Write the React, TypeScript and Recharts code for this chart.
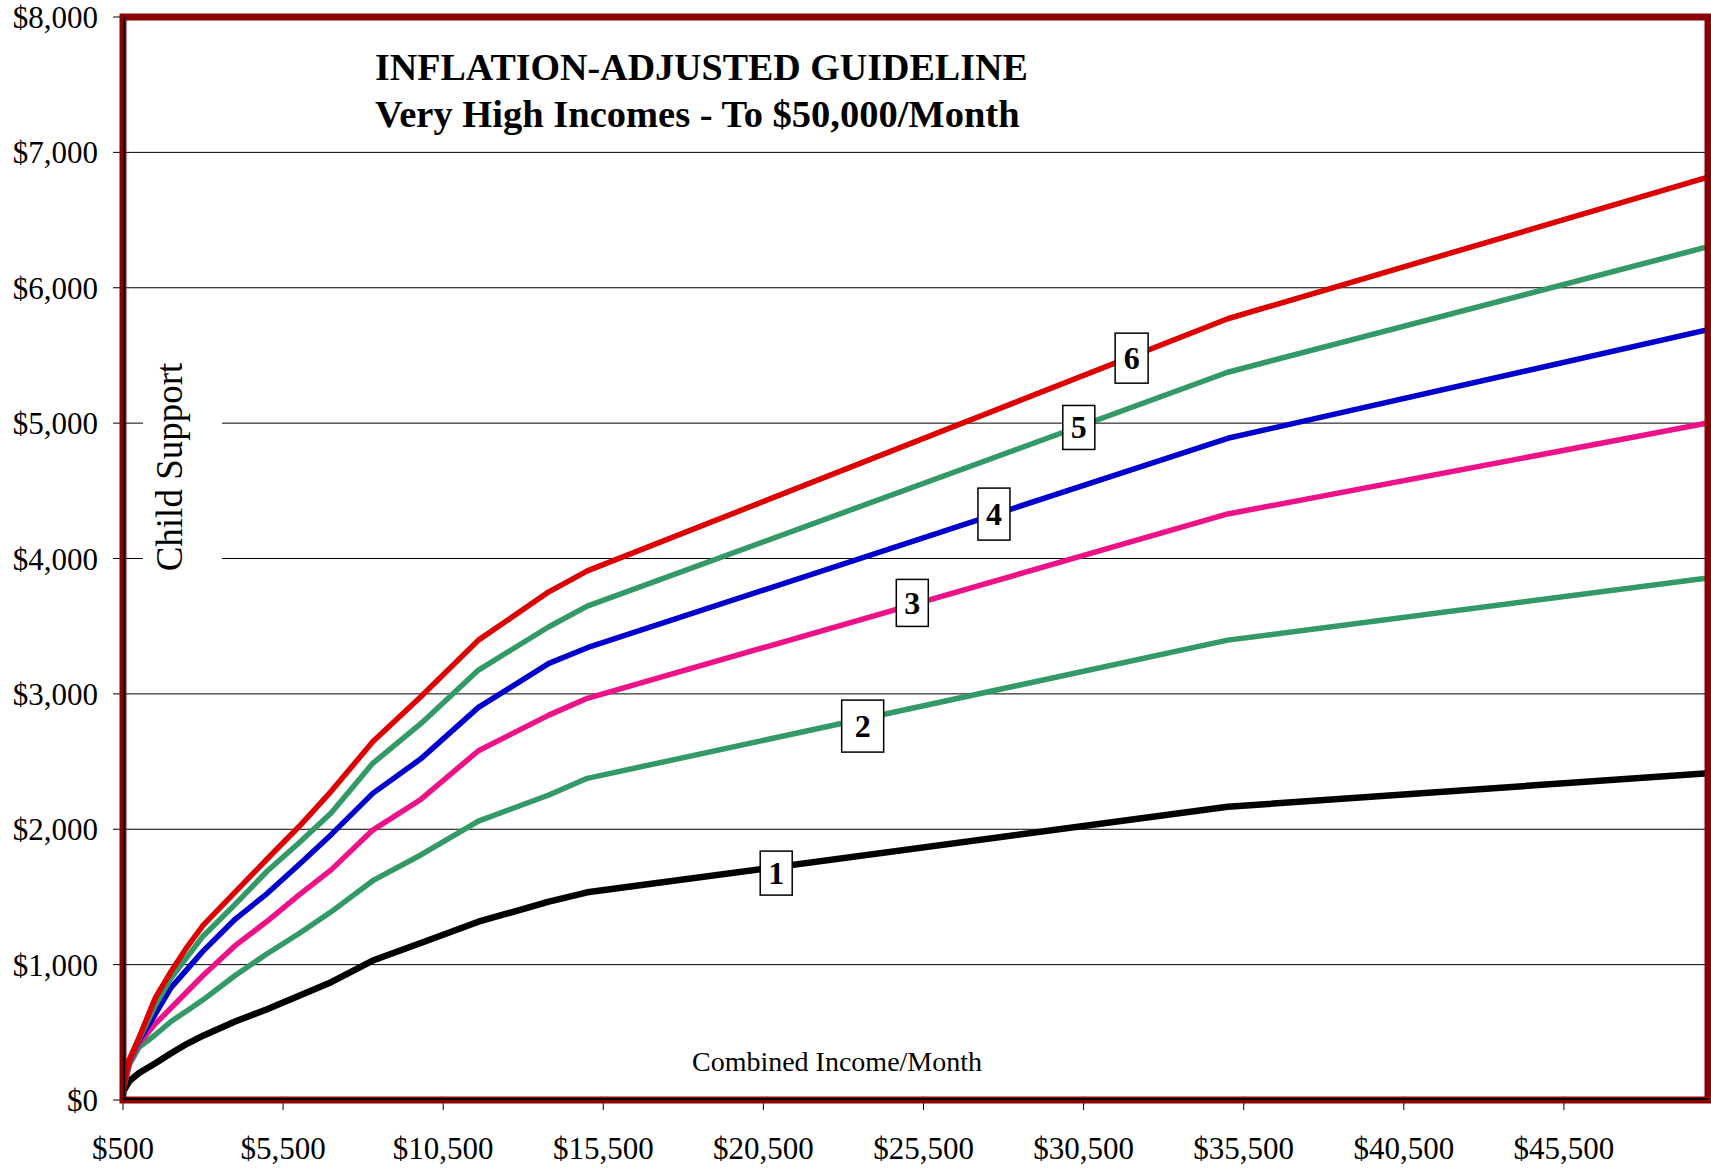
import React from "react";
import { LineChart, Line, XAxis, YAxis, CartesianGrid, ReferenceDot } from "recharts";

// Combined income per month (x) and child support per month for 1..6 children
const incomes = [500, 700, 1000, 1500, 2000, 2500, 3000, 4000, 5000, 6000, 7000, 8300, 9800, 11600, 13800, 15000, 35000, 50000];
const oneChild = [60, 140, 200, 270, 345, 415, 475, 580, 670, 770, 870, 1030, 1160, 1317, 1465, 1534, 2166, 2414];
const twoChildren = [70, 260, 390, 480, 580, 660, 740, 920, 1080, 1230, 1390, 1620, 1810, 2060, 2253, 2376, 3397, 3856];
const threeChildren = [70, 280, 420, 560, 680, 800, 920, 1140, 1320, 1515, 1700, 1994, 2220, 2580, 2843, 2967, 4329, 5001];
const fourChildren = [70, 290, 440, 630, 830, 965, 1100, 1335, 1525, 1740, 1960, 2265, 2520, 2900, 3225, 3341, 4888, 5690];
const fiveChildren = [70, 295, 450, 695, 900, 1055, 1210, 1445, 1690, 1900, 2120, 2487, 2780, 3176, 3496, 3648, 5376, 6303];
const sixChildren = [70, 300, 460, 750, 950, 1130, 1290, 1535, 1780, 2020, 2280, 2646, 2979, 3397, 3754, 3909, 5771, 6817];

const xTicks = [500, 5500, 10500, 15500, 20500, 25500, 30500, 35500, 40500, 45500];
const yTicks = [0, 1000, 2000, 3000, 4000, 5000, 6000, 7000, 8000];

// Series tag labels (number of children) placed on the lines
const tagTexts = ["1", "2", "3", "4", "5", "6"];
const tagIncomes = [20900, 23600, 25150, 27700, 30350, 32000];
const tagValues = [1676, 2762, 3672, 4328, 4968, 5480];

const title1 = "INFLATION-ADJUSTED GUIDELINE";
const title2 = "Very High Incomes - To $50,000/Month";
const yTitle = "Child Support";
const xTitle = "Combined Income/Month";

const seriesKeys = ["s1", "s2", "s3", "s4", "s5", "s6"];
const seriesColors = ["#000000", "#339966", "#EE1289", "#0000CC", "#339966", "#DD0000"];
const seriesWidths = [6.5, 5.5, 5.5, 5.5, 5.5, 5.5];
const tagBoxW = [32, 42, 32, 32, 32, 33];
const tagBoxH = [44, 52, 47, 52, 44, 50];

const data = incomes.map((x, i) => ({
  x,
  s1: oneChild[i],
  s2: twoChildren[i],
  s3: threeChildren[i],
  s4: fourChildren[i],
  s5: fiveChildren[i],
  s6: sixChildren[i],
}));

const FONT = '"Liberation Serif", "Times New Roman", serif';
const W = 1711;
const H = 1175;
const PL = 123;
const PT = 17;
const PR = 3;
const PB = 75;

const money = (v: number) => "$" + Number(v).toLocaleString("en-US");

const makeTag = (i: number) => (props: any) => {
  const { cx, cy } = props;
  const w = tagBoxW[i];
  const h = tagBoxH[i];
  return (
    <g>
      <rect x={cx - w / 2} y={cy - h / 2} width={w} height={h} fill="#fff" stroke="#000" strokeWidth={1.5} />
      <text x={cx} y={cy + 11} textAnchor="middle" fontFamily={FONT} fontWeight="bold" fontSize={32} fill="#000">
        {tagTexts[i]}
      </text>
    </g>
  );
};

export default function App() {
  const plotW = W - PL - PR;
  const plotH = H - PT - PB;
  return (
    <div style={{ position: "absolute", left: 0, top: 0, width: W, height: H, background: "#fff" }}>
      <LineChart width={W} height={H} data={data} margin={{ top: PT, right: PR, left: 0, bottom: 0 }}>
        <CartesianGrid vertical={false} stroke="#000" strokeWidth={1} />
        <XAxis
          dataKey="x"
          type="number"
          domain={[500, 50000]}
          allowDataOverflow
          ticks={xTicks}
          tickFormatter={money}
          height={PB}
          tickSize={10}
          tickMargin={27}
          stroke="#000"
          tick={{ fontFamily: FONT, fontSize: 31, fill: "#000" }}
          interval={0}
        />
        <YAxis
          type="number"
          domain={[0, 8000]}
          ticks={yTicks}
          tickFormatter={money}
          width={PL}
          tickSize={10}
          tickMargin={15}
          stroke="#000"
          tick={{ fontFamily: FONT, fontSize: 31, fill: "#000" }}
          interval={0}
        />
        {seriesKeys.map((k, i) => (
          <Line
            key={k}
            dataKey={k}
            type="linear"
            stroke={seriesColors[i]}
            strokeWidth={seriesWidths[i]}
            dot={false}
            activeDot={false}
            isAnimationActive={false}
            strokeLinejoin="round"
          />
        ))}
        {tagTexts.map((t, i) => (
          <ReferenceDot key={t} x={tagIncomes[i]} y={tagValues[i]} r={0} ifOverflow="visible" shape={makeTag(i)} />
        ))}
      </LineChart>
      <svg width={W} height={H} style={{ position: "absolute", left: 0, top: 0, pointerEvents: "none" }}>
        <rect x={PL} y={PT} width={plotW} height={plotH} fill="none" stroke="#8B0000" strokeWidth={7} />
        <line x1={PL + 1} y1={PT} x2={PL + 1} y2={PT + plotH} stroke="#000" strokeWidth={2} />
        <line x1={PL} y1={PT + plotH - 1} x2={PL + plotW} y2={PT + plotH - 1} stroke="#000" strokeWidth={2} />
        <text x={375} y={80} fontFamily={FONT} fontWeight="bold" fontSize={38} fill="#000">
          {title1}
        </text>
        <text x={375} y={127} fontFamily={FONT} fontWeight="bold" fontSize={38.5} fill="#000">
          {title2}
        </text>
        <rect x={143} y={345} width={79} height={250} fill="#fff" />
        <text
          x={182}
          y={467}
          textAnchor="middle"
          fontFamily={FONT}
          fontSize={37}
          fill="#000"
          transform="rotate(-90 182 467)"
        >
          {yTitle}
        </text>
        <text x={837} y={1071} textAnchor="middle" fontFamily={FONT} fontSize={28} fill="#000">
          {xTitle}
        </text>
      </svg>
    </div>
  );
}
